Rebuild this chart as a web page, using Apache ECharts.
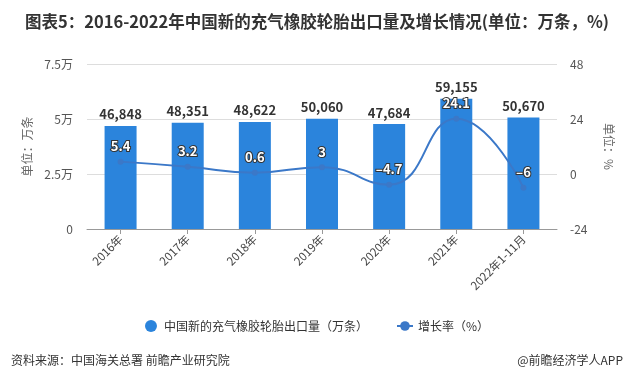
<!DOCTYPE html>
<html><head><meta charset="utf-8">
<script src="https://cdn.jsdelivr.net/npm/echarts@6/dist/echarts.min.js"></script>
<style>html,body{margin:0;padding:0;background:#fff;}#c{width:634px;height:379px;}</style>
</head><body><div id="c"></div>
<script>
var categories = ['2016年','2017年','2018年','2019年','2020年','2021年','2022年1-11月'];
var exportVolume = [46848, 48351, 48622, 50060, 47684, 59155, 50670];
var growthRate = [5.4, 3.2, 0.6, 3, -4.7, 24.1, -6];
var leftTicks = [0, 25000, 50000, 75000];
var rightTicks = [-24, 0, 24, 48];
var FONT = '"Microsoft YaHei","Noto Sans CJK SC",sans-serif';
var chart = echarts.init(document.getElementById('c'));
chart.setOption({
  animation: false,
  textStyle: {fontFamily: FONT},
  title: [
    {text: '图表5：2016-2022年中国新的充气橡胶轮胎出口量及增长情况(单位：万条，%)', left: 'center', top: 8,
     textStyle: {fontSize: 16.5, fontWeight: 'bold', color: '#333', fontFamily: FONT}},
    {text: '资料来源：中国海关总署 前瞻产业研究院', left: 6, top: 349,
     textStyle: {fontSize: 12, fontWeight: 'normal', color: '#333', fontFamily: FONT}},
    {text: '@前瞻经济学人APP', right: 6, top: 349,
     textStyle: {fontSize: 12, fontWeight: 'normal', color: '#333', fontFamily: FONT}}
  ],
  legend: {
    top: 315, left: 'center', itemGap: 28, itemWidth: 16, itemHeight: 12,
    textStyle: {fontSize: 12, color: '#333'},
    data: [{name: '中国新的充气橡胶轮胎出口量（万条）', icon: 'circle'}, {name: '增长率（%）'}]
  },
  grid: {left: 87, right: 77, top: 64, bottom: 150},
  xAxis: {
    type: 'category', data: categories,
    axisLine: {lineStyle: {color: '#999'}},
    axisTick: {show: true, alignWithLabel: true, lineStyle: {color: '#999'}},
    axisLabel: {rotate: 45, color: '#444', fontSize: 11.5, interval: 0, margin: 8}
  },
  yAxis: [
    {type: 'value', min: leftTicks[0], max: leftTicks[leftTicks.length-1], interval: 25000,
     name: '单位：万条', nameLocation: 'middle', nameGap: 50, nameRotate: 90,
     nameTextStyle: {color: '#666', fontSize: 12},
     axisLine: {show: false}, axisTick: {show: false},
     axisLabel: {color: '#555', fontSize: 12, margin: 14, formatter: function(v){return v===0?'0':(v/10000)+'万';}},
     splitLine: {lineStyle: {color: '#ddd'}}},
    {type: 'value', min: rightTicks[0], max: rightTicks[rightTicks.length-1], interval: 24,
     name: '单位：%', nameLocation: 'middle', nameGap: 46, nameRotate: -90,
     nameTextStyle: {color: '#666', fontSize: 12},
     axisLine: {show: false}, axisTick: {show: false},
     axisLabel: {color: '#555', fontSize: 12, margin: 13},
     splitLine: {show: false}}
  ],
  series: [
    {name: '中国新的充气橡胶轮胎出口量（万条）', type: 'bar', data: exportVolume, barWidth: 32,
     itemStyle: {color: '#2b84dc'},
     label: {show: true, position: 'top', color: '#333', fontWeight: 'bold', fontSize: 13,
             formatter: function(p){return p.value.toLocaleString('en-US');}}},
    {name: '增长率（%）', type: 'line', yAxisIndex: 1, data: growthRate, smooth: true,
     symbol: 'circle', symbolSize: 6,
     lineStyle: {color: '#3b78c8', width: 2}, itemStyle: {color: '#3b78c8'},
     label: {show: true, position: 'top', distance: 6, color: '#fff', fontWeight: 'bold', fontSize: 13,
             textBorderColor: '#333', textBorderWidth: 2,
             formatter: function(p){return String(p.value).replace('-', '–');}}}
  ]
});
</script></body></html>
